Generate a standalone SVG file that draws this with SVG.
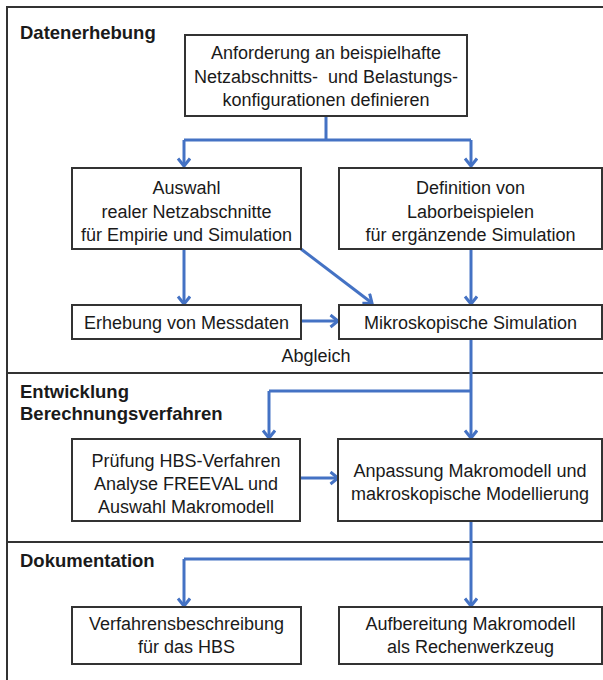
<svg xmlns="http://www.w3.org/2000/svg" width="603" height="680" viewBox="0 0 603 680">
<defs>
<marker id="ah" markerUnits="userSpaceOnUse" markerWidth="16" markerHeight="16" refX="9" refY="7" orient="auto">
<path d="M1.5,1 L9,7 L1.5,13" fill="none" stroke="#4472C4" stroke-width="3" stroke-linejoin="miter"/>
</marker>
<style>
.frame{fill:none;stroke:#333;stroke-width:2}
.box{fill:#fff;stroke:#333;stroke-width:2}
.t{font-family:"Liberation Sans",Arial,sans-serif;font-size:18px;fill:#1a1a1a;text-anchor:middle}
.h{font-family:"Liberation Sans",Arial,sans-serif;font-size:18.5px;font-weight:bold;fill:#1a1a1a}
.c{fill:none;stroke:#4472C4;stroke-width:3}
</style>
</defs>
<rect x="0" y="0" width="603" height="680" fill="#fff"/>
<g id="sections">
<rect class="frame" x="7" y="7" width="620" height="700"/>
<line class="frame" x1="7" y1="373" x2="603" y2="373"/>
<line class="frame" x1="7" y1="542" x2="603" y2="542"/>
<text class="h" x="20" y="39">Datenerhebung</text>
<text class="h" x="20" y="398">Entwicklung</text>
<text class="h" x="20" y="420">Berechnungsverfahren</text>
<text class="h" x="20" y="567">Dokumentation</text>
<text class="t" x="316" y="362">Abgleich</text>
</g>
<g id="connectors">
<path class="c" d="M326,116 V140 M184,140 H471"/>
<path class="c" d="M184,140 V166" marker-end="url(#ah)"/>
<path class="c" d="M471,140 V166" marker-end="url(#ah)"/>
<path class="c" d="M184,249 V304" marker-end="url(#ah)"/>
<path class="c" d="M301,249 L372,303" marker-end="url(#ah)"/>
<path class="c" d="M471,249 V304" marker-end="url(#ah)"/>
<path class="c" d="M301,321 H338" marker-end="url(#ah)"/>
<path class="c" d="M471,339 V391 M269,391 H471"/>
<path class="c" d="M269,391 V438" marker-end="url(#ah)"/>
<path class="c" d="M471,391 V438" marker-end="url(#ah)"/>
<path class="c" d="M300,478 H338" marker-end="url(#ah)"/>
<path class="c" d="M471,521 V559 M184,559 H471"/>
<path class="c" d="M184,559 V606" marker-end="url(#ah)"/>
<path class="c" d="M471,559 V606" marker-end="url(#ah)"/>
</g>
<g id="n1">
<rect class="box" x="185" y="35" width="282" height="81"/>
<text class="t" x="326" y="59">Anforderung an beispielhafte</text>
<text class="t" x="326" y="82.5" xml:space="preserve">Netzabschnitts-  und Belastungs-</text>
<text class="t" x="326" y="106">konfigurationen definieren</text>
</g>
<g id="n2">
<rect class="box" x="72" y="168" width="229" height="81"/>
<text class="t" x="186.5" y="194">Auswahl</text>
<text class="t" x="186.5" y="217.5">realer Netzabschnitte</text>
<text class="t" x="186.5" y="241">für Empirie und Simulation</text>
</g>
<g id="n3">
<rect class="box" x="339" y="168" width="263" height="81"/>
<text class="t" x="470.5" y="194">Definition von</text>
<text class="t" x="470.5" y="217.5">Laborbeispielen</text>
<text class="t" x="470.5" y="241">für ergänzende Simulation</text>
</g>
<g id="n4">
<rect class="box" x="72" y="305" width="229" height="34"/>
<text class="t" x="186.5" y="328.5">Erhebung von Messdaten</text>
</g>
<g id="n5">
<rect class="box" x="339" y="305" width="263" height="34"/>
<text class="t" x="470.5" y="328.5">Mikroskopische Simulation</text>
</g>
<g id="n6">
<rect class="box" x="72" y="439" width="228" height="82"/>
<text class="t" x="186" y="467">Prüfung HBS-Verfahren</text>
<text class="t" x="186" y="490">Analyse FREEVAL und</text>
<text class="t" x="186" y="513">Auswahl Makromodell</text>
</g>
<g id="n7">
<rect class="box" x="338" y="439" width="264" height="82"/>
<text class="t" x="470" y="477">Anpassung Makromodell und</text>
<text class="t" x="470" y="500">makroskopische Modellierung</text>
</g>
<g id="n8">
<rect class="box" x="72" y="607" width="229" height="57"/>
<text class="t" x="186.5" y="630">Verfahrensbeschreibung</text>
<text class="t" x="186.5" y="653">für das HBS</text>
</g>
<g id="n9">
<rect class="box" x="339" y="607" width="263" height="57"/>
<text class="t" x="470.5" y="630">Aufbereitung Makromodell</text>
<text class="t" x="470.5" y="653">als Rechenwerkzeug</text>
</g>
</svg>
